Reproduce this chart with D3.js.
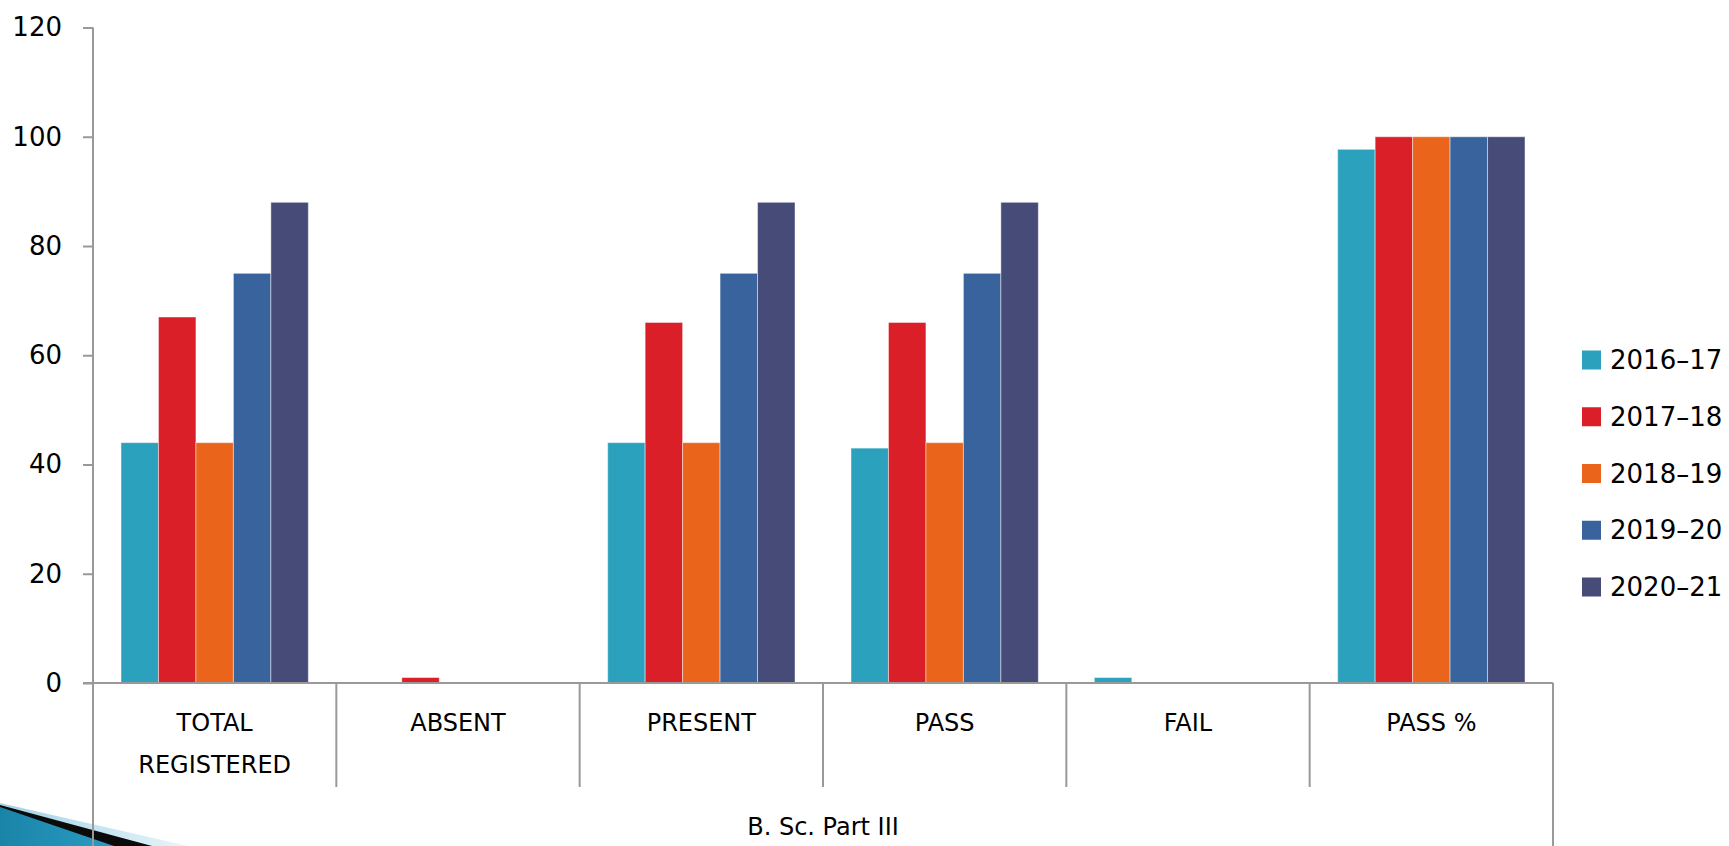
<!DOCTYPE html>
<html>
<head>
<meta charset="utf-8">
<script src="https://cdn.jsdelivr.net/npm/d3@7"></script>
<style>
  html, body { margin: 0; padding: 0; background: #fff; }
  svg { display: block; font-family: "DejaVu Sans", sans-serif; }
</style>
</head>
<body>
<svg id="chart" width="1729" height="846"></svg>
<script>
const categories = ["TOTAL REGISTERED", "ABSENT", "PRESENT", "PASS", "FAIL", "PASS %"];
const seriesNames = ["2016\u201317", "2017\u201318", "2018\u201319", "2019\u201320", "2020\u201321"];
const s2016 = [44, 0, 44, 43, 1, 97.7];
const s2017 = [67, 1, 66, 66, 0, 100];
const s2018 = [44, 0, 44, 44, 0, 100];
const s2019 = [75, 0, 75, 75, 0, 100];
const s2020 = [88, 0, 88, 88, 0, 100];
const yTicks = [0, 20, 40, 60, 80, 100, 120];
const groupLabel = "B. Sc. Part III";
const colors = ["#2CA1BE", "#DA1F28", "#EB641B", "#39639D", "#474B78"];

(function () {
const seriesValues = [s2016, s2017, s2018, s2019, s2020];
const svg = d3.select("#chart");

// decoration swoosh at bottom-left
const defs = svg.append("defs");
const g1 = defs.append("linearGradient").attr("id", "swBlue").attr("x1", "0").attr("y1", "0").attr("x2", "1").attr("y2", "0");
g1.append("stop").attr("offset", "0").attr("stop-color", "#1a84a8");
g1.append("stop").attr("offset", "1").attr("stop-color", "#2a9cc3");
const g2 = defs.append("linearGradient").attr("id", "swLight").attr("x1", "0").attr("y1", "0").attr("x2", "1").attr("y2", "0");
g2.append("stop").attr("offset", "0").attr("stop-color", "#9fd3e6");
g2.append("stop").attr("offset", "1").attr("stop-color", "#e8f5fa");
svg.append("path").attr("d", "M0,803 L188,846 L0,846 Z").attr("fill", "url(#swLight)");
svg.append("path").attr("d", "M0,805 L152,846 L0,846 Z").attr("fill", "#0b0b0b");
svg.append("path").attr("d", "M0,807 L114,846 L0,846 Z").attr("fill", "url(#swBlue)");

const plotLeft = 93, plotRight = 1553, plotTop = 27.5, zeroY = 683;
const y = d3.scaleLinear().domain([0, 120]).range([zeroY, plotTop]);
const x0 = d3.scaleBand().domain(categories).range([plotLeft, plotRight]).padding(0);
const bw = x0.bandwidth();
const x1 = d3.scaleBand().domain(seriesNames).range([28, bw - 28]).padding(0);

// bars
seriesNames.forEach((s, si) => {
  svg.append("g").selectAll("rect")
    .data(categories.map((c, ci) => ({ c, v: seriesValues[si][ci] })))
    .join("rect")
    .attr("x", d => x0(d.c) + x1(s))
    .attr("y", d => y(d.v))
    .attr("width", x1.bandwidth())
    .attr("height", d => zeroY - y(d.v))
    .attr("fill", colors[si])
    .attr("stroke", "rgba(255,255,255,0.45)")
    .attr("stroke-width", 1)
    .attr("display", d => d.v > 0 ? null : "none");
});

const axisColor = "#999999";
// y axis
const yAxis = d3.axisLeft(y).tickValues(yTicks).tickSize(10).tickPadding(21);
const ya = svg.append("g").attr("transform", `translate(${plotLeft},0)`).call(yAxis);
ya.select(".domain").remove();
ya.selectAll(".tick line").attr("stroke", axisColor).attr("stroke-width", 2);
ya.selectAll(".tick text").attr("font-size", 26).attr("fill", "#000").attr("font-family", "DejaVu Sans");
svg.append("line").attr("x1", plotLeft).attr("x2", plotLeft).attr("y1", plotTop).attr("y2", 846)
  .attr("stroke", axisColor).attr("stroke-width", 2);

// x axis baseline
svg.append("line").attr("x1", plotLeft - 10).attr("x2", plotRight).attr("y1", zeroY).attr("y2", zeroY)
  .attr("stroke", axisColor).attr("stroke-width", 2);
// dividers
categories.forEach((c, i) => {
  if (i === 0) return;
  svg.append("line").attr("x1", x0(c)).attr("x2", x0(c)).attr("y1", zeroY).attr("y2", 787)
    .attr("stroke", axisColor).attr("stroke-width", 2);
});
svg.append("line").attr("x1", plotRight).attr("x2", plotRight).attr("y1", zeroY).attr("y2", 846)
  .attr("stroke", axisColor).attr("stroke-width", 2);

// category labels
categories.forEach(c => {
  const words = c === "TOTAL REGISTERED" ? ["TOTAL", "REGISTERED"] : [c];
  words.forEach((w, i) => {
    svg.append("text")
      .attr("x", x0(c) + bw / 2)
      .attr("y", 723 + i * 42)
      .attr("text-anchor", "middle")
      .attr("dominant-baseline", "central")
      .attr("font-size", 24)
      .attr("fill", "#000")
      .text(w);
  });
});

svg.append("text")
  .attr("x", (plotLeft + plotRight) / 2)
  .attr("y", 827)
  .attr("text-anchor", "middle")
  .attr("dominant-baseline", "central")
  .attr("font-size", 24)
  .attr("fill", "#000")
  .text(groupLabel);

// legend
const legY = d3.scalePoint().domain(seriesNames).range([360, 587]);
const leg = svg.append("g");
seriesNames.forEach((s, i) => {
  leg.append("rect").attr("x", 1582).attr("y", legY(s) - 9.5).attr("width", 19).attr("height", 19).attr("fill", colors[i]);
  leg.append("text").attr("x", 1610).attr("y", legY(s))
    .attr("dominant-baseline", "central").attr("font-size", 26).attr("fill", "#000").text(s);
});
})();
</script>
</body>
</html>
